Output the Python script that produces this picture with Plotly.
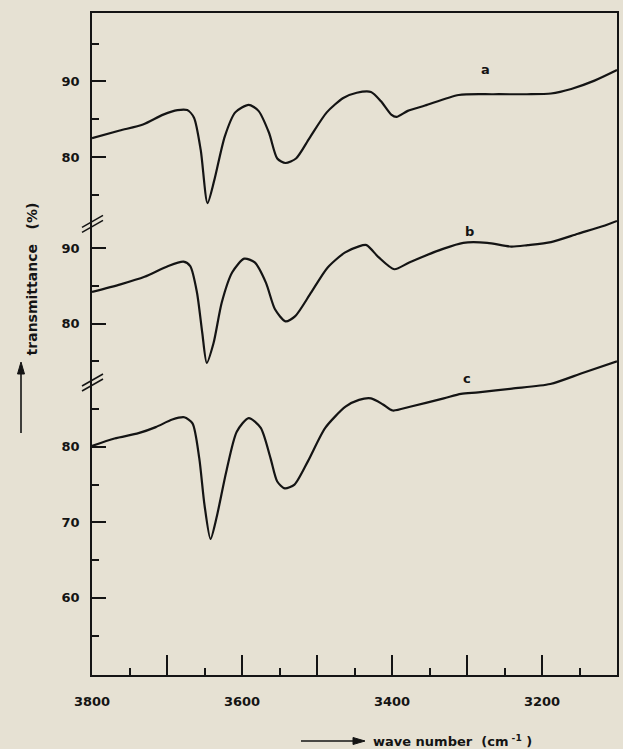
import plotly.graph_objects as go

# ---- data (wavenumber cm-1, transmittance %) ----
a_wavenumber = [3800, 3763, 3732, 3705, 3686, 3673, 3664, 3655, 3646, 3637, 3623, 3609, 3591, 3578,
                3564, 3553, 3542, 3528, 3510, 3487, 3465, 3447, 3428, 3415, 3401, 3394, 3379, 3356,
                3311, 3265, 3220, 3188, 3161, 3130, 3100]
a_transmittance = [82.5, 83.5, 84.3, 85.6, 86.2, 86.2, 85.2, 80.9, 73.9, 76.9, 82.7, 85.9, 86.9, 86.1,
                   83.2, 79.8, 79.2, 79.8, 82.5, 85.9, 87.8, 88.5, 88.6, 87.4, 85.6, 85.3, 86.1, 86.8,
                   88.2, 88.3, 88.3, 88.4, 89.0, 90.1, 91.5]

b_wavenumber = [3800, 3762, 3730, 3699, 3678, 3669, 3660, 3653, 3647, 3638, 3627, 3613, 3597, 3583,
                3568, 3556, 3542, 3529, 3508, 3486, 3463, 3445, 3434, 3418, 3397, 3377, 3332, 3305,
                3273, 3241, 3219, 3188, 3152, 3116, 3100]
b_transmittance = [84.2, 85.2, 86.2, 87.6, 88.2, 87.6, 84.1, 78.8, 74.8, 77.4, 82.8, 86.8, 88.6, 88.1,
                   85.4, 81.9, 80.3, 81.0, 84.1, 87.4, 89.4, 90.2, 90.4, 88.8, 87.2, 88.1, 89.9, 90.7,
                   90.7, 90.2, 90.4, 90.8, 91.9, 93.0, 93.6]

c_wavenumber = [3800, 3770, 3738, 3715, 3693, 3677, 3666, 3657, 3650, 3642, 3634, 3621, 3607, 3591,
                3575, 3562, 3553, 3543, 3530, 3512, 3489, 3462, 3444, 3428, 3412, 3399, 3376, 3331,
                3308, 3285, 3240, 3189, 3145, 3100]
c_transmittance = [80.1, 81.1, 81.8, 82.6, 83.6, 83.9, 83.1, 78.5, 72.3, 67.8, 70.6, 76.7, 82.0, 83.8,
                   82.5, 78.5, 75.4, 74.5, 75.0, 78.1, 82.5, 85.3, 86.2, 86.4, 85.6, 84.8, 85.3, 86.4,
                   87.0, 87.2, 87.7, 88.3, 89.8, 91.3]

series_labels = ["a", "b", "c"]

# tick labels
x_labeled_ticks = [3800, 3600, 3400, 3200]
x_labeled_text = ["3800", "3600", "3400", "3200"]
x_unlabeled_long_ticks = [3700, 3500, 3300]
x_minor_ticks = [3750, 3650, 3550, 3450, 3350, 3250, 3150]

a_major_ticks = [90, 80]
a_minor_ticks = [95, 85, 75]
b_major_ticks = [90, 80]
b_minor_ticks = [85, 75]
c_major_ticks = [80, 70, 60]
c_minor_ticks = [85, 75, 65, 55]

# vertical stacking offsets of the three traces (in % units on a shared axis)
OFF_A, OFF_B, OFF_C = 38.35, 16.29, 0.0
BREAKS = [109.5, 88.5]
X_RANGE = [3800, 3100]
Y_RANGE = [49.8, 137.4]

INK = "#141414"
PAPER = "#e6e1d3"
FONT = "DejaVu Sans"

fig = go.Figure()
for wn, tr, off, xa in [(a_wavenumber, a_transmittance, OFF_A, "x"),
                        (b_wavenumber, b_transmittance, OFF_B, "x"),
                        (c_wavenumber, c_transmittance, OFF_C, "x2")]:
    fig.add_trace(go.Scatter(x=wn, y=[v + off for v in tr], mode="lines", xaxis=xa, yaxis="y",
                             line=dict(color=INK, width=2.2, shape="spline", smoothing=0.7),
                             showlegend=False, hoverinfo="skip"))

y_major = [v + OFF_A for v in a_major_ticks] + [v + OFF_B for v in b_major_ticks] + \
          [v + OFF_C for v in c_major_ticks]
y_major_text = [str(v) for v in a_major_ticks + b_major_ticks + c_major_ticks]
y_minor = [v + OFF_A for v in a_minor_ticks] + [v + OFF_B for v in b_minor_ticks] + \
          [v + OFF_C for v in c_minor_ticks]

tickfont = dict(size=13, family=FONT, color=INK, weight="bold")

fig.update_layout(
    width=623, height=749,
    margin=dict(l=92, r=4, t=13, b=74),
    paper_bgcolor=PAPER, plot_bgcolor=PAPER,
    font=dict(family=FONT, size=13, color=INK),
    xaxis=dict(range=X_RANGE, showgrid=False, zeroline=False,
               showline=True, linecolor=INK, linewidth=1.6, mirror=True,
               tickmode="array", tickvals=x_labeled_ticks, ticktext=x_labeled_text,
               ticks="inside", ticklen=20, tickwidth=1.6, tickcolor=INK,
               ticklabelstandoff=14, tickfont=tickfont,
               minor=dict(tickmode="array", tickvals=x_minor_ticks, ticks="inside",
                          ticklen=7, tickwidth=1.6, tickcolor=INK, showgrid=False)),
    xaxis2=dict(range=X_RANGE, overlaying="x", anchor="y", side="bottom",
                showgrid=False, zeroline=False, showline=False, showticklabels=False,
                tickmode="array", tickvals=x_unlabeled_long_ticks,
                ticks="inside", ticklen=20, tickwidth=1.6, tickcolor=INK),
    yaxis=dict(range=Y_RANGE, showgrid=False, zeroline=False,
               showline=True, linecolor=INK, linewidth=1.6, mirror=True,
               tickmode="array", tickvals=y_major, ticktext=y_major_text,
               ticks="inside", ticklen=14, tickwidth=1.6, tickcolor=INK,
               ticklabelstandoff=8, tickfont=tickfont,
               minor=dict(tickmode="array", tickvals=y_minor, ticks="inside",
                          ticklen=7, tickwidth=1.6, tickcolor=INK, showgrid=False)),
)

shapes = []
# axis break marks "//" on the left axis
for yb in BREAKS:
    for dy in (-2.5, 2.5):
        shapes.append(dict(type="line", xref="paper", xsizemode="pixel", xanchor=0,
                           x0=-10, x1=11, yref="y", ysizemode="pixel", yanchor=yb,
                           y0=-6 + dy, y1=6 + dy, line=dict(color=INK, width=1.6)))
# arrow next to the y title (pointing up)
shapes.append(dict(type="line", xref="paper", xsizemode="pixel", xanchor=0, x0=-71, x1=-71,
                   yref="paper", ysizemode="pixel", yanchor=0, y0=242, y1=304,
                   line=dict(color=INK, width=1.6)))
shapes.append(dict(type="path", xref="paper", xsizemode="pixel", xanchor=0,
                   yref="paper", ysizemode="pixel", yanchor=0,
                   path="M -74.5,301 L -67.5,301 L -71,313 Z",
                   fillcolor=INK, line=dict(color=INK, width=1)))
# arrow before the x title (pointing right)
shapes.append(dict(type="line", xref="paper", xsizemode="pixel", xanchor=0, x0=209, x1=264,
                   yref="paper", ysizemode="pixel", yanchor=0, y0=-66, y1=-66,
                   line=dict(color=INK, width=1.6)))
shapes.append(dict(type="path", xref="paper", xsizemode="pixel", xanchor=0,
                   yref="paper", ysizemode="pixel", yanchor=0,
                   path="M 261,-62.5 L 261,-69.5 L 273,-66 Z",
                   fillcolor=INK, line=dict(color=INK, width=1)))
fig.update_layout(shapes=shapes)

# curve labels
for lab, wn, yy in zip(series_labels, [3275, 3297, 3300], [129.9, 108.5, 89.1]):
    fig.add_annotation(x=wn, y=yy, text="<b>%s</b>" % lab, showarrow=False,
                       font=dict(size=13, family=FONT, color=INK))

# y axis title
fig.add_annotation(xref="paper", yref="paper", x=-0.1328, y=0.598,
                   text="<b>transmittance   (%)</b>", textangle=-90, showarrow=False,
                   font=dict(size=14, family=FONT, color=INK))

# x axis title
fig.add_annotation(xref="paper", yref="paper", x=0.531, y=-0.0997, xanchor="left",
                   yanchor="middle", text="<b>wave number  (cm<sup> -1</sup> )</b>",
                   showarrow=False, font=dict(size=13, family=FONT, color=INK))

fig.write_html("out.html", config={"displayModeBar": False}, post_script=(
    "document.body.style.margin='0';document.body.style.padding='0';"
    "document.body.style.background='%s';document.body.style.overflow='hidden';" % PAPER))
